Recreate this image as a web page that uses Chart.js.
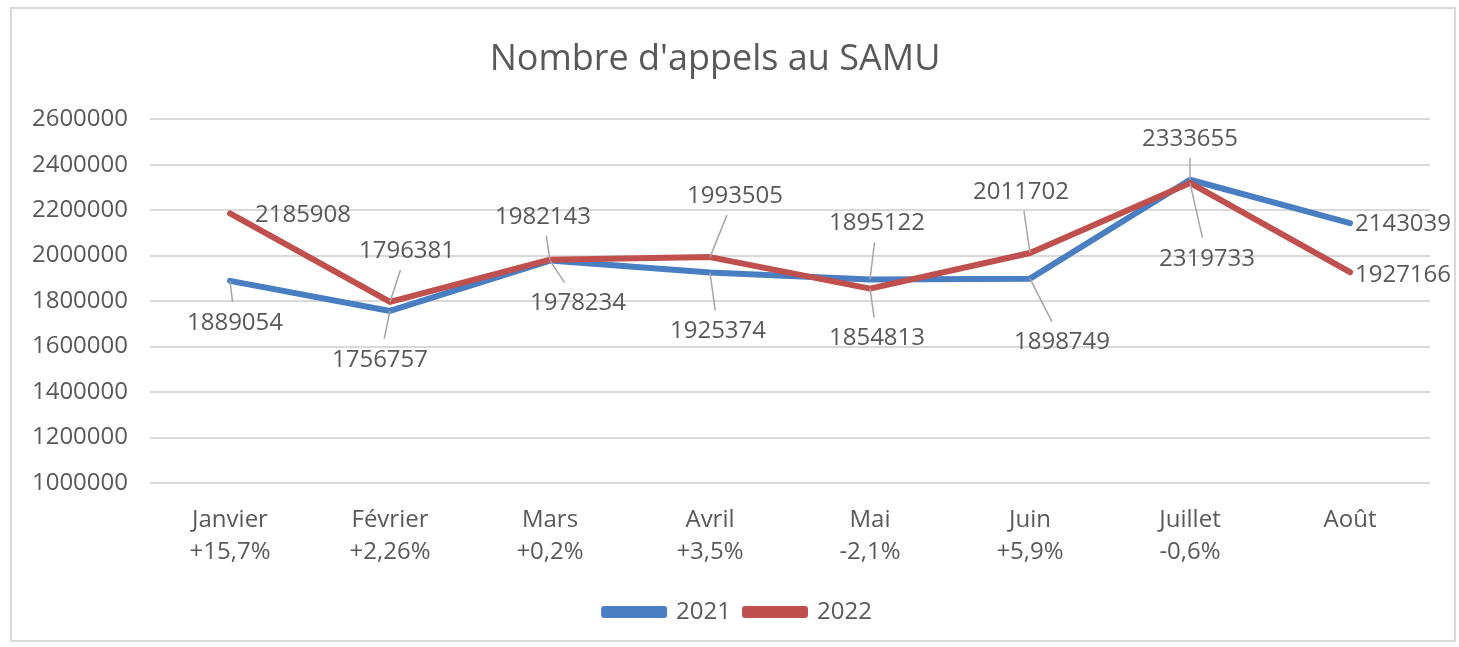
<!DOCTYPE html>
<html>
<head>
<meta charset="utf-8">
<script src="https://cdn.jsdelivr.net/npm/chart.js@4"></script>
<style>
  html, body { margin: 0; padding: 0; background: #fff; overflow: hidden; }
  #chart { display: block; }
</style>
</head>
<body>
<canvas id="chart" width="1459" height="647"></canvas>
<script>
// données
const mois = ['Janvier', 'Février', 'Mars', 'Avril', 'Mai', 'Juin', 'Juillet', 'Août'];
const evolution = ['+15,7%', '+2,26%', '+0,2%', '+3,5%', '-2,1%', '+5,9%', '-0,6%', ''];
const appels2021 = [1889054, 1756757, 1978234, 1925374, 1895122, 1898749, 2333655, 2143039];
const appels2022 = [2185908, 1796381, 1982143, 1993505, 1854813, 2011702, 2319733, 1927166];

const gris = '#595959';
const police = 'Open Sans';

// décalage des étiquettes (en px) par rapport au point, et ligne de rappel
const place2021 = [[5, 41, 1], [-10, 48, 1], [28, 42, 1], [8, 58, 1], [7, -57, 1], [32, 63, 1], [0, -42, 1], [53, 0, 0]];
const place2022 = [[73, 1, 0], [17, -52, 1], [-7, -44, 1], [25, -62, 1], [7, 49, 1], [-9, -62, 1], [17, 75, 1], [53, 2, 0]];

const cadre = {
    id: 'cadre',
    afterLayout(chart) {
        // légende un peu décalée vers la droite comme sur l'original
        chart.legend.left += 23;
        chart.legend.right += 23;
    },
    beforeDraw(chart) {
        const ctx = chart.ctx;
        ctx.save();
        ctx.fillStyle = '#fff';
        ctx.fillRect(0, 0, chart.width, chart.height);
        ctx.strokeStyle = '#d9d9d9';
        ctx.lineWidth = 2;
        ctx.strokeRect(11, 8, 1444, 633);
        ctx.restore();
    }
};

const etiquettes = {
    id: 'etiquettes',
    afterDatasetsDraw(chart) {
        const ctx = chart.ctx;
        ctx.save();
        ctx.font = '24px "' + police + '"';
        ctx.textAlign = 'center';
        ctx.textBaseline = 'middle';
        chart.data.datasets.forEach((ds, i) => {
            const meta = chart.getDatasetMeta(i);
            meta.data.forEach((pt, j) => {
                const [dx, dy, rappel] = ds.placement[j];
                const txt = String(ds.data[j]);
                const cx = pt.x + dx, cy = pt.y + dy;
                const hw = ctx.measureText(txt).width / 2 + 4;
                const hh = 20;
                if (rappel) {
                    const vx = pt.x - cx, vy = pt.y - cy;
                    const s = Math.min(vx ? hw / Math.abs(vx) : Infinity, vy ? hh / Math.abs(vy) : Infinity);
                    if (s < 1) {
                        ctx.strokeStyle = '#a6a6a6';
                        ctx.lineWidth = 1.5;
                        ctx.beginPath();
                        ctx.moveTo(pt.x, pt.y);
                        ctx.lineTo(cx + vx * s, cy + vy * s);
                        ctx.stroke();
                    }
                }
                ctx.fillStyle = gris;
                ctx.fillText(txt, cx, cy + 1);
            });
        });
        ctx.restore();
    }
};

new Chart(document.getElementById('chart'), {
    type: 'line',
    data: {
        labels: mois.map((m, i) => evolution[i] ? [m, evolution[i]] : [m]),
        datasets: [{
            label: '2021',
            data: appels2021,
            placement: place2021,
            borderColor: '#4a7ec2',
            backgroundColor: '#4a7ec2',
            borderWidth: 6,
            pointRadius: 0,
            borderJoinStyle: 'round',
            borderCapStyle: 'round',
            order: 1
        }, {
            label: '2022',
            data: appels2022,
            placement: place2022,
            borderColor: '#c0504d',
            backgroundColor: '#c0504d',
            borderWidth: 6,
            pointRadius: 0,
            borderJoinStyle: 'round',
            borderCapStyle: 'round',
            order: 0
        }]
    },
    options: {
        responsive: false,
        animation: false,
        devicePixelRatio: 1,
        layout: { padding: { left: 0, right: 29, top: 0, bottom: 13 } },
        plugins: {
            title: {
                display: true,
                text: "Nombre d'appels au SAMU",
                color: gris,
                font: { family: police, size: 36, weight: 'normal' },
                padding: { top: 38, bottom: 38 }
            },
            legend: {
                position: 'bottom',
                labels: {
                    color: gris,
                    font: { family: police, size: 24 },
                    boxWidth: 60,
                    boxHeight: 6,
                    padding: 14,
                    sort: (a, b) => a.datasetIndex - b.datasetIndex
                }
            },
            tooltip: { enabled: false }
        },
        scales: {
            x: {
                offset: true,
                afterFit: (s) => { s.height = 103; },
                grid: { display: false, drawTicks: false },
                border: { display: false },
                ticks: {
                    color: gris,
                    font: { family: police, size: 24, lineHeight: 1.3 },
                    padding: 22,
                    maxRotation: 0
                }
            },
            y: {
                min: 1000000,
                max: 2600000,
                afterFit: (s) => { s.width = 150; },
                grid: { color: '#d9d9d9', lineWidth: 2, drawTicks: false },
                border: { display: false },
                ticks: {
                    stepSize: 200000,
                    color: gris,
                    font: { family: police, size: 24 },
                    padding: 22,
                    callback: (v) => String(v)
                }
            }
        }
    },
    plugins: [cadre, etiquettes]
});
</script>
</body>
</html>
